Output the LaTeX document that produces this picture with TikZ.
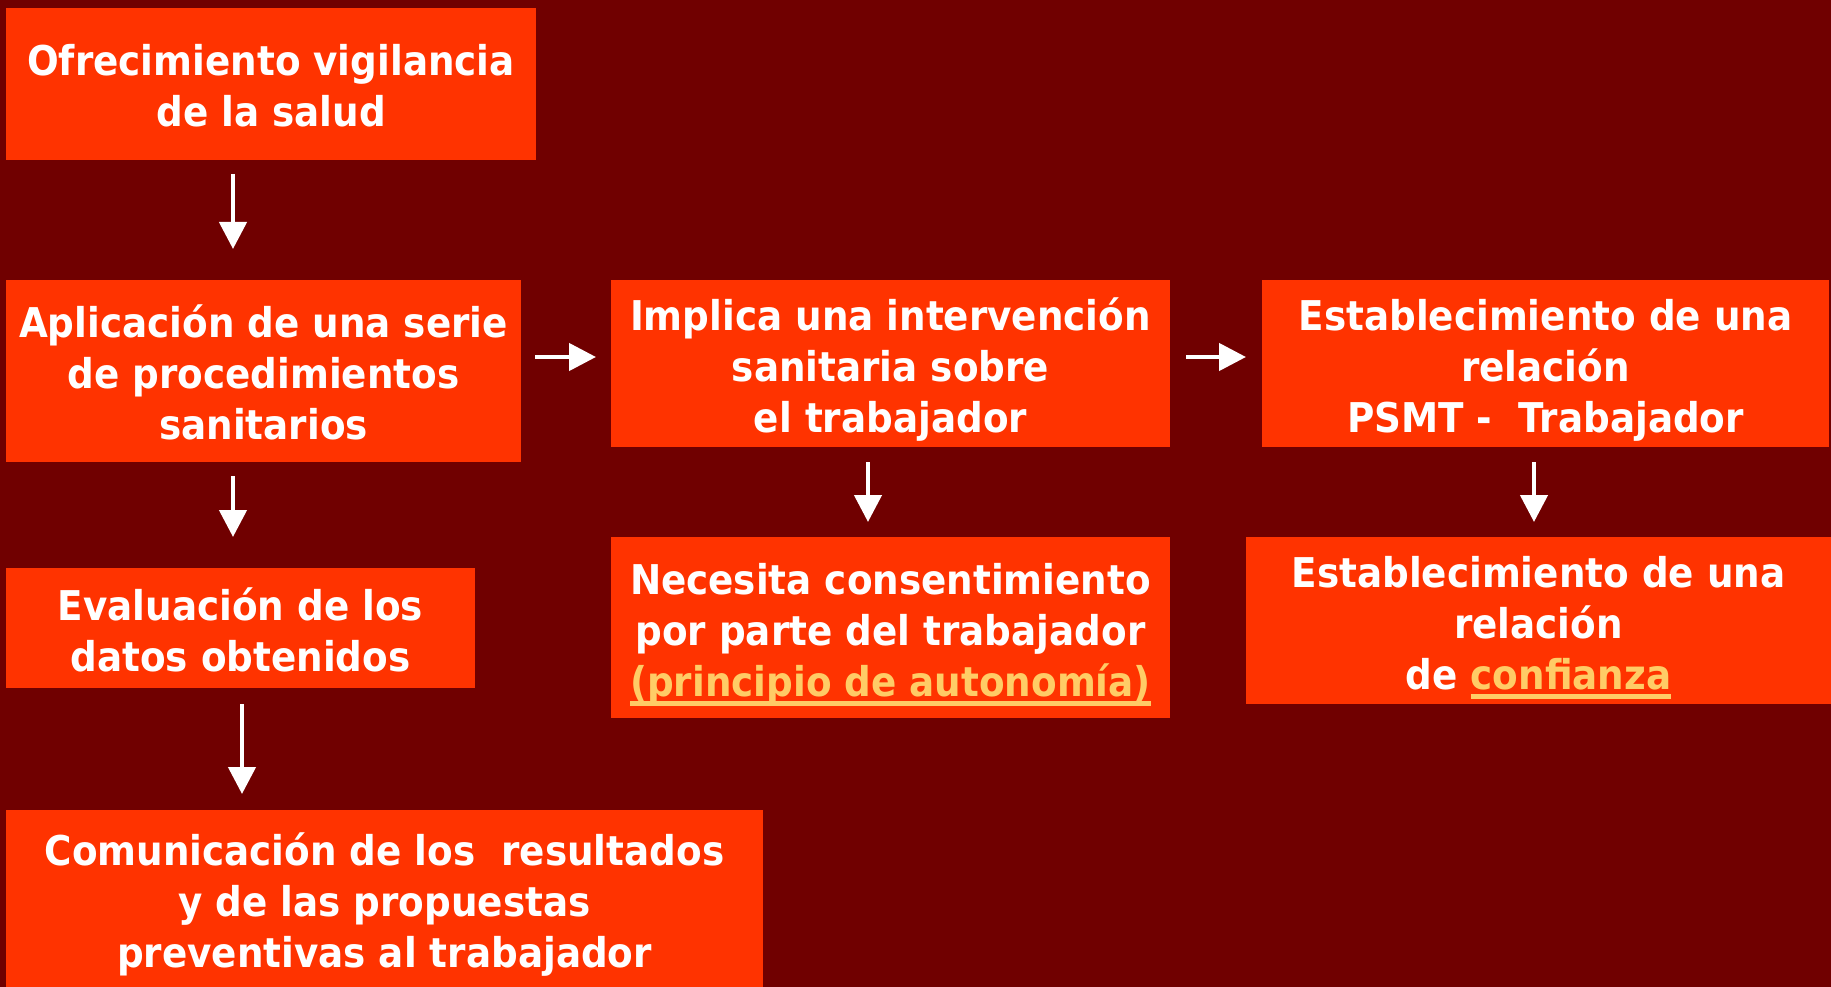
\documentclass[tikz,border=0pt]{standalone}
\usepackage{fontspec}
\usepackage{tikz}
\usetikzlibrary{arrows.meta}

\newfontfamily\boxfont[FakeStretch=0.91]{DejaVu Sans}
\definecolor{bgred}{RGB}{112,0,0}
\definecolor{boxred}{RGB}{255,51,0}
\definecolor{gold}{RGB}{255,204,102}
\newcommand{\goldul}[1]{{\color{gold}\setbox0\hbox{#1}\rlap{\rule[-9.5pt]{\wd0}{4.5pt}}\box0}}

\tikzset{
	box/.style={fill=boxred, text=white, align=center, inner sep=0pt, outer sep=0pt,
		font=\boxfont\bfseries\fontsize{41}{51}\selectfont, text depth=0pt},
	lines2/.style={text height=86pt},
	lines3/.style={text height=137pt},
	arr/.style={white, line width=4.5pt, -{Triangle[length=27pt,width=27pt]}}
}

\begin{document}
\begin{tikzpicture}[x=1pt, y=-1pt]
	\fill[bgred] (0,0) rectangle (1831,987);
	\useasboundingbox (0,0) rectangle (1831,987);

	\node (ofrec) [box, lines2, minimum width=530pt, minimum height=152pt] at (271,84)
		{Ofrecimiento vigilancia\\de la salud};
	\node (aplic) [box, lines3, minimum width=515pt, minimum height=182pt] at (263.5,371)
		{Aplicación de una serie\\de procedimientos\\sanitarios};
	\node (evalua) [box, lines2, minimum width=469pt, minimum height=120pt] at (240.5,628)
		{Evaluación de los\\datos obtenidos};
	\node (comunic) [box, lines3, minimum width=757pt, minimum height=177pt] at (384.5,898.5)
		{Comunicación de los\ \ resultados\\y de las propuestas\\preventivas al trabajador};

	\node (impl) [box, lines3, minimum width=559pt, minimum height=167pt] at (890.5,363.5)
		{Implica una intervención\\sanitaria sobre\\el trabajador};
	\node (consent) [box, lines3, minimum width=559pt, minimum height=181pt] at (890.5,627.5)
		{Necesita consentimiento\\por parte del trabajador\\\goldul{(principio de autonomía)}};

	\node (relac) [box, lines3, minimum width=567pt, minimum height=167pt] at (1545.5,363.5)
		{Establecimiento de una\\relación\\PSMT -\ \ Trabajador};
	\node (confi) [box, lines3, minimum width=585pt, minimum height=167pt] at (1538.5,620.5)
		{Establecimiento de una\\relación\\de \goldul{confianza}};

	\draw [arr, shorten <=14pt, shorten >=31pt] (ofrec.south -| 233,0) -- (aplic.north -| 233,0);
	\draw [arr, shorten <=14pt, shorten >=31pt] (aplic.south -| 233,0) -- (evalua.north -| 233,0);
	\draw [arr, shorten <=16pt, shorten >=16pt] (evalua.south -| 242,0) -- (comunic.north -| 242,0);
	\draw [arr, shorten <=14pt, shorten >=15pt] (aplic.east |- 0,357) -- (impl.west |- 0,357);
	\draw [arr, shorten <=16pt, shorten >=16pt] (impl.east |- 0,357) -- (relac.west |- 0,357);
	\draw [arr, shorten <=15pt, shorten >=15pt] (impl.south -| 868,0) -- (consent.north -| 868,0);
	\draw [arr, shorten <=15pt, shorten >=15pt] (relac.south -| 1534,0) -- (confi.north -| 1534,0);
\end{tikzpicture}
\end{document}
